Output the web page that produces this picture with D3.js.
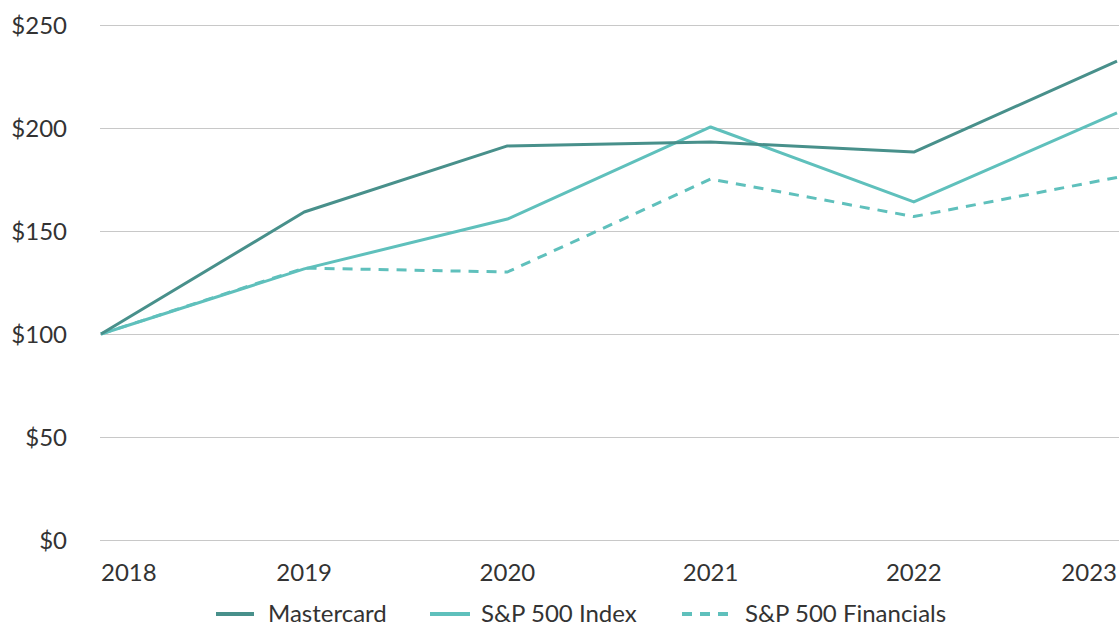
<!DOCTYPE html>
<html><head><meta charset="utf-8">
<script src="https://cdn.jsdelivr.net/npm/d3@7"></script>
<style>body{margin:0;background:#fff}svg{display:block}text{font-family:Lato,"Open Sans",sans-serif;fill:#333}</style>
</head><body>
<svg id="c" width="1119" height="627"></svg>
<script>
const years = ["2018","2019","2020","2021","2022","2023"];
const mastercard = [100, 159.2, 191.3, 193.2, 188.3, 232.5];
const sp500 = [100, 131.6, 155.8, 200.5, 164.1, 207.3];
const sp500fin = [100, 132, 130.1, 175.2, 157.0, 176];
const yTicks = [0, 50, 100, 150, 200, 250];
const seriesNames = ["Mastercard", "S&P 500 Index", "S&P 500 Financials"];

const svg = d3.select("#c");
const x = d3.scalePoint().domain(years).range([101, 1117]);
const y = d3.scaleLinear().domain([0, 250]).range([540, 25]);

// gridlines
svg.append("g").selectAll("line").data(yTicks).join("line")
  .attr("x1", 100).attr("x2", 1119)
  .attr("y1", d => Math.round(y(d)) + 0.5).attr("y2", d => Math.round(y(d)) + 0.5)
  .attr("stroke", "#c8c8c8").attr("stroke-width", 1);

// y labels
svg.append("g").selectAll("text").data(yTicks).join("text")
  .attr("x", 67).attr("y", d => y(d)).attr("dy", "0.36em")
  .attr("text-anchor", "end").attr("font-size", 24)
  .text(d => "$" + d);

// x labels
svg.append("g").selectAll("text").data(years).join("text")
  .attr("x", d => x(d)).attr("y", 581)
  .attr("text-anchor", (d, i) => i === 0 ? "start" : (i === years.length - 1 ? "end" : "middle"))
  .attr("font-size", 24)
  .text(d => d);

const line = d3.line().x((d, i) => x(years[i])).y(d => y(d));
const styles = [
  {data: mastercard, color: "#48908b", dash: null},
  {data: sp500, color: "#5fc0bc", dash: null},
  {data: sp500fin, color: "#5fc0bc", dash: "10,8"}
];
const order = [2, 1, 0];
order.forEach(i => {
  const s = styles[i];
  svg.append("path").datum(s.data).attr("d", line)
    .attr("fill", "none").attr("stroke", s.color).attr("stroke-width", 3)
    .attr("stroke-linejoin", "round")
    .attr("stroke-dasharray", s.dash);
});

// legend
const legX = [[216, 254, 268], [430, 470, 481], [682, 730, 745]];
const lg = svg.append("g");
seriesNames.forEach((n, i) => {
  lg.append("line").attr("x1", legX[i][0]).attr("x2", legX[i][1])
    .attr("y1", 614).attr("y2", 614)
    .attr("stroke", styles[i].color).attr("stroke-width", 4)
    .attr("stroke-dasharray", i === 2 ? "10,8" : null);
  lg.append("text").attr("x", legX[i][2]).attr("y", 622)
    .attr("font-size", 24).text(n);
});
</script>
</body></html>
